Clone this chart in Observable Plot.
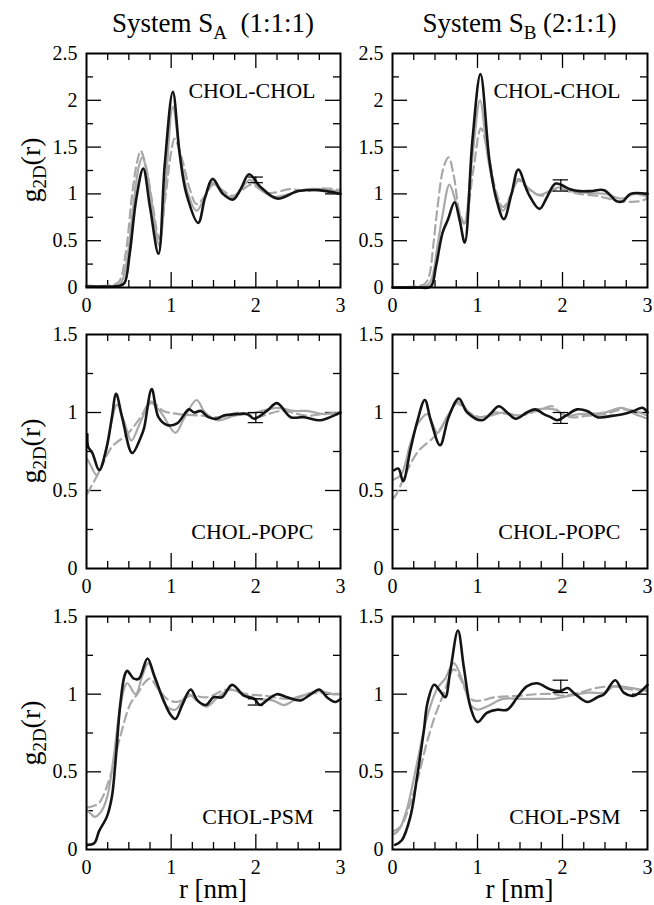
<!DOCTYPE html>
<html>
<head>
<meta charset="utf-8">
<script src="https://cdn.jsdelivr.net/npm/d3@7"></script>
<script src="https://cdn.jsdelivr.net/npm/@observablehq/plot@0.6"></script>
<style>
  body { margin: 0; background: #fff; }
  #wrap { position: relative; width: 654px; height: 905px; background: #fff; font-family: "Liberation Serif", "Times New Roman", serif; color: #000; overflow: hidden; }
  #wrap svg, #wrap svg text { font-family: "Liberation Serif", "Times New Roman", serif !important; }
  .abs { position: absolute; }
  .title { font-size: 27px; line-height: 27px; text-align: center; white-space: pre; }
  .title sub { font-size: 19px; vertical-align: -7px; line-height: 0; }
  .ylab { font-size: 28px; line-height: 30px; height: 30px; width: 120px; text-align: center; transform: rotate(-90deg); white-space: pre; }
  .ylab sub { font-size: 19px; vertical-align: -6px; line-height: 0; }
  .xlab { font-size: 27px; line-height: 27px; text-align: center; white-space: pre; }
</style>
</head>
<body>
<div id="wrap"></div>
<script>
// ---------------- data ----------------
const xTicks = [0, 1, 2, 3];
const xTickLabels = ["0", "1", "2", "3"];
const xMinorTicks = [0.25, 0.5, 0.75, 1.25, 1.5, 1.75, 2.25, 2.5, 2.75];
const xMajorInner = [1, 2];
const yTicksTop = [0, 0.5, 1, 1.5, 2, 2.5];
const yTickLabelsTop = ["0", "0.5", "1", "1.5", "2", "2.5"];
const yMinorTop = [0.25, 0.75, 1.25, 1.75, 2.25];
const yMajorInnerTop = [0.5, 1, 1.5, 2];
const yTicksLow = [0, 0.5, 1, 1.5];
const yTickLabelsLow = ["0", "0.5", "1", "1.5"];
const yMinorLow = [0.25, 0.75, 1.25];
const yMajorInnerLow = [0.5, 1];

const titles = ["System S", "A", "  (1:1:1)", "System S", "B", " (2:1:1)"];
const pairLabels = ["CHOL-CHOL", "CHOL-POPC", "CHOL-PSM"];
const xAxisLabel = "r [nm]";

// System SA, CHOL-CHOL
const aCholBlack = [[0,0.01],[0.2,0.01],[0.4,0.02],[0.45,0.05],[0.51,0.36],[0.59,0.96],[0.67,1.27],[0.75,0.86],[0.85,0.36],[0.925,1.32],[1.02,2.09],[1.1,1.43],[1.18,1.0],[1.32,0.69],[1.4,0.96],[1.49,1.16],[1.61,1.0],[1.73,0.94],[1.82,1.05],[1.92,1.21],[2.05,1.08],[2.25,0.95],[2.5,1.03],[2.74,1.04],[3.0,1.0]];
const aCholGray = [[0,0.01],[0.3,0.01],[0.4,0.04],[0.47,0.25],[0.55,0.85],[0.62,1.3],[0.66,1.39],[0.72,1.2],[0.78,0.85],[0.86,0.45],[0.93,1.05],[1.02,1.93],[1.1,1.45],[1.2,1.0],[1.3,0.82],[1.4,0.97],[1.49,1.12],[1.6,1.02],[1.73,0.96],[1.85,1.08],[1.93,1.15],[2.05,1.05],[2.2,0.97],[2.4,1.0],[2.6,1.05],[2.8,1.05],[3.0,1.02]];
const aCholDash = [[0,0.02],[0.25,0.02],[0.38,0.06],[0.46,0.35],[0.54,1.0],[0.6,1.35],[0.64,1.46],[0.7,1.3],[0.77,0.95],[0.86,0.52],[0.93,0.95],[1.0,1.45],[1.04,1.59],[1.12,1.4],[1.22,1.05],[1.3,0.89],[1.4,0.98],[1.5,1.1],[1.62,1.03],[1.73,0.98],[1.85,1.05],[1.95,1.1],[2.1,1.02],[2.2,1.01],[2.4,1.05],[2.6,1.03],[2.8,1.06],[3.0,1.04]];
const aCholErr = {x: 2, lo: 1.12, hi: 1.18};

// System SB, CHOL-CHOL
const bCholBlack = [[0,0.0],[0.3,0.0],[0.45,0.01],[0.51,0.22],[0.59,0.59],[0.65,0.72],[0.73,0.91],[0.79,0.72],[0.85,0.48],[0.94,1.57],[1.035,2.28],[1.14,1.36],[1.22,0.95],[1.31,0.73],[1.4,1.0],[1.48,1.26],[1.6,1.0],[1.73,0.84],[1.82,0.97],[1.92,1.11],[2.09,1.05],[2.2,1.03],[2.33,1.03],[2.49,1.04],[2.64,0.92],[2.71,0.92],[2.8,1.0],[3.0,1.0]];
const bCholGray = [[0,0],[0.3,0.0],[0.42,0.03],[0.47,0.12],[0.53,0.45],[0.59,0.78],[0.67,1.10],[0.75,0.9],[0.84,0.68],[0.94,1.4],[1.03,2.0],[1.12,1.4],[1.22,0.98],[1.3,0.82],[1.4,1.0],[1.48,1.16],[1.6,1.06],[1.72,0.99],[1.85,1.03],[1.95,1.07],[2.1,1.03],[2.3,1.01],[2.5,1.0],[2.7,0.95],[2.85,1.0],[3.0,0.97]];
const bCholDash = [[0,0],[0.25,0.01],[0.38,0.04],[0.43,0.12],[0.48,0.45],[0.53,0.86],[0.6,1.28],[0.66,1.39],[0.72,1.2],[0.79,0.8],[0.85,0.69],[0.95,1.25],[1.04,1.70],[1.12,1.45],[1.22,1.02],[1.3,0.86],[1.4,1.0],[1.48,1.14],[1.6,1.05],[1.75,0.98],[1.85,1.02],[1.95,1.05],[2.1,1.02],[2.2,1.0],[2.4,0.98],[2.5,0.96],[2.7,0.92],[2.9,0.92],[3.0,0.95]];
const bCholErr = {x: 1.98, lo: 1.03, hi: 1.15};

// System SA, CHOL-POPC
const aPopcBlack = [[0.01,0.86],[0.02,0.78],[0.07,0.74],[0.15,0.63],[0.24,0.78],[0.3,0.97],[0.35,1.12],[0.42,0.97],[0.54,0.74],[0.64,0.84],[0.68,0.9],[0.77,1.15],[0.85,0.97],[0.95,0.92],[1.07,0.93],[1.21,1.02],[1.27,1.0],[1.35,1.01],[1.44,0.97],[1.54,0.96],[1.62,0.98],[1.78,0.99],[1.9,0.99],[1.98,0.96],[2.13,1.01],[2.25,1.06],[2.41,0.97],[2.57,0.97],[2.76,0.95],[2.92,0.98],[3.0,1.0]];
const aPopcGray = [[0.01,0.7],[0.05,0.66],[0.12,0.6],[0.2,0.7],[0.28,0.9],[0.36,1.05],[0.44,0.95],[0.53,0.82],[0.63,0.93],[0.76,1.06],[0.88,1.0],[1.05,0.87],[1.15,0.96],[1.3,1.08],[1.4,1.0],[1.55,0.95],[1.75,0.98],[2.0,1.0],[2.25,1.03],[2.45,1.01],[2.6,1.01],[2.8,0.99],[3.0,1.0]];
const aPopcDash = [[0.01,0.48],[0.05,0.52],[0.15,0.62],[0.3,0.78],[0.48,0.86],[0.64,0.97],[0.76,1.07],[0.91,1.01],[1.09,0.99],[1.35,0.98],[1.6,0.97],[1.8,1.0],[2.0,0.97],[2.3,1.01],[2.6,0.98],[2.8,0.99],[3.0,1.0]];
const aPopcErr = {x: 2, lo: 0.935, hi: 1.0};

// System SB, CHOL-POPC
const bPopcBlack = [[0.02,0.63],[0.07,0.64],[0.125,0.56],[0.21,0.76],[0.29,0.94],[0.38,1.08],[0.45,0.95],[0.56,0.79],[0.66,0.97],[0.78,1.09],[0.88,1.0],[1.05,0.95],[1.15,0.99],[1.25,1.04],[1.35,1.0],[1.45,0.96],[1.58,1.0],[1.68,1.02],[1.78,0.99],[1.86,0.97],[1.94,0.95],[2.04,0.98],[2.17,1.02],[2.29,1.01],[2.41,0.97],[2.6,0.98],[2.72,0.99],[2.84,1.01],[2.94,1.03],[3.0,1.0]];
const bPopcGray = [[0.01,0.57],[0.1,0.6],[0.21,0.8],[0.3,0.93],[0.41,0.99],[0.53,0.87],[0.65,0.98],[0.78,1.07],[0.9,1.0],[1.0,0.97],[1.15,0.98],[1.3,1.0],[1.5,0.98],[1.7,1.02],[1.9,1.02],[2.05,0.98],[2.2,0.99],[2.5,1.0],[2.7,1.03],[2.85,0.99],[3.0,0.96]];
const bPopcDash = [[0.01,0.45],[0.05,0.48],[0.15,0.6],[0.3,0.75],[0.5,0.85],[0.65,0.97],[0.75,1.06],[0.9,1.0],[1.05,0.97],[1.2,1.0],[1.5,0.98],[1.75,1.02],[1.88,1.04],[1.97,1.0],[2.1,0.97],[2.3,0.98],[2.5,0.99],[2.7,1.02],[2.85,1.01],[3.0,0.98]];
const bPopcErr = {x: 1.98, lo: 0.93, hi: 1.0};

// System SA, CHOL-PSM
const aPsmBlack = [[0.01,0.03],[0.09,0.04],[0.15,0.12],[0.24,0.21],[0.3,0.34],[0.34,0.55],[0.4,0.94],[0.45,1.12],[0.48,1.15],[0.56,1.10],[0.62,1.10],[0.72,1.23],[0.8,1.12],[0.91,0.96],[0.99,0.87],[1.05,0.84],[1.13,0.93],[1.23,1.03],[1.31,0.96],[1.41,0.93],[1.5,0.98],[1.6,0.98],[1.72,1.06],[1.86,0.99],[1.98,0.97],[2.05,0.93],[2.13,0.96],[2.25,1.0],[2.37,0.98],[2.53,0.96],[2.65,1.0],[2.75,1.03],[2.84,0.98],[2.94,0.95],[3.0,0.97]];
const aPsmGray = [[0.01,0.25],[0.05,0.23],[0.1,0.21],[0.18,0.25],[0.25,0.35],[0.32,0.59],[0.4,0.92],[0.48,1.07],[0.58,1.0],[0.66,1.12],[0.73,1.2],[0.82,1.08],[0.95,0.92],[1.05,0.9],[1.2,1.0],[1.3,0.96],[1.42,0.92],[1.55,0.98],[1.7,1.03],[1.85,1.0],[2.0,0.97],[2.2,0.96],[2.33,0.93],[2.45,0.96],[2.6,1.0],[2.75,1.02],[2.9,1.0],[3.0,1.0]];
const aPsmDash = [[0.01,0.27],[0.08,0.28],[0.15,0.3],[0.28,0.47],[0.4,0.73],[0.52,0.94],[0.6,1.0],[0.68,1.07],[0.75,1.1],[0.85,1.03],[0.95,0.97],[1.07,0.95],[1.23,0.99],[1.43,0.98],[1.66,1.03],[1.9,1.0],[2.1,0.99],[2.4,0.97],[2.6,1.0],[2.8,1.01],[3.0,1.0]];
const aPsmErr = {x: 2, lo: 0.93, hi: 0.97};

// System SB, CHOL-PSM
const bPsmBlack = [[0.03,0.03],[0.11,0.06],[0.21,0.21],[0.29,0.47],[0.37,0.77],[0.41,0.94],[0.49,1.06],[0.56,1.02],[0.62,0.98],[0.68,1.15],[0.77,1.41],[0.84,1.17],[0.92,0.91],[1.0,0.82],[1.11,0.88],[1.23,0.9],[1.35,0.9],[1.47,0.98],[1.58,1.05],[1.7,1.07],[1.86,1.03],[1.98,1.02],[2.06,1.04],[2.15,1.0],[2.29,0.95],[2.41,0.98],[2.49,1.0],[2.62,1.09],[2.72,1.01],[2.84,0.99],[3.0,1.06]];
const bPsmGray = [[0.02,0.1],[0.08,0.13],[0.17,0.26],[0.29,0.56],[0.41,0.86],[0.53,1.04],[0.62,1.1],[0.72,1.2],[0.84,1.06],[0.92,0.93],[1.0,0.9],[1.11,0.92],[1.3,0.97],[1.5,0.97],[1.7,0.97],[1.9,0.97],[2.0,0.98],[2.3,1.01],[2.5,1.01],[2.6,1.05],[2.8,1.04],[3.0,1.02]];
const bPsmDash = [[0.02,0.12],[0.1,0.15],[0.2,0.28],[0.3,0.46],[0.4,0.68],[0.5,0.86],[0.6,1.0],[0.72,1.16],[0.8,1.1],[0.88,1.0],[0.95,0.96],[1.05,0.96],[1.2,0.98],[1.5,0.99],[1.7,1.0],[1.9,1.0],[2.0,0.99],[2.2,1.01],[2.4,1.04],[2.6,1.05],[2.8,1.03],[3.0,1.03]];
const bPsmErr = {x: 1.98, lo: 1.01, hi: 1.09};

// ---------------- layout ----------------
const FONT = "Liberation Serif";
const errCapHalf = 0.09;
const cols = [
  {left: 0, width: 345, ml: 86, mr: 5},
  {left: 345, width: 309, ml: 47, mr: 7}
];
const rows = [
  {frameTop: 53, frameH: 234},
  {frameTop: 334, frameH: 234},
  {frameTop: 616, frameH: 233}
];
const MT = 10, MB = 32;
const GRAY = "#a8a8a8";

const panels = [
  {row: 0, col: 0, black: aCholBlack, gray: aCholGray, dash: aCholDash, err: aCholErr, top: true, label: pairLabels[0], anchor: "top-right", dx: -25, dy: 37},
  {row: 0, col: 1, black: bCholBlack, gray: bCholGray, dash: bCholDash, err: bCholErr, top: true, label: pairLabels[0], anchor: "top-right", dx: -27, dy: 37},
  {row: 1, col: 0, black: aPopcBlack, gray: aPopcGray, dash: aPopcDash, err: aPopcErr, top: false, label: pairLabels[1], anchor: "bottom-right", dx: -27, dy: -37},
  {row: 1, col: 1, black: bPopcBlack, gray: bPopcGray, dash: bPopcDash, err: bPopcErr, top: false, label: pairLabels[1], anchor: "bottom-right", dx: -27, dy: -37},
  {row: 2, col: 0, black: aPsmBlack, gray: aPsmGray, dash: aPsmDash, err: aPsmErr, top: false, label: pairLabels[2], anchor: "bottom-right", dx: -27, dy: -33},
  {row: 2, col: 1, black: bPsmBlack, gray: bPsmGray, dash: bPsmDash, err: bPsmErr, top: false, label: pairLabels[2], anchor: "bottom-right", dx: -27, dy: -33}
];

const wrap = document.getElementById("wrap");

function makePanel(p) {
  const c = cols[p.col], r = rows[p.row];
  const fw = c.width - c.ml - c.mr;
  const fh = r.frameH;
  const yTicks = p.top ? yTicksTop : yTicksLow;
  const yLabels = p.top ? yTickLabelsTop : yTickLabelsLow;
  const yMinor = p.top ? yMinorTop : yMinorLow;
  const yMajor = p.top ? yMajorInnerTop : yMajorInnerLow;
  const yMax = yTicks[yTicks.length - 1];
  const tickStyle = {stroke: "#000", strokeWidth: 1.3};
  const svg = Plot.plot({
    width: c.width,
    height: MT + fh + MB,
    marginLeft: c.ml,
    marginRight: c.mr,
    marginTop: MT,
    marginBottom: MB,
    style: {fontFamily: FONT, fontSize: "20px", color: "#000", background: "transparent", overflow: "visible"},
    x: {domain: [0, 3]},
    y: {domain: [0, yMax]},
    marks: [
      Plot.axisX({ticks: xTicks, tickSize: 0, tickPadding: 10, tickFormat: (d, i) => xTickLabels[i], label: null, fontFamily: FONT, fontSize: 20, fontVariant: "normal"}),
      Plot.axisY({ticks: yTicks, tickSize: 0, tickPadding: 9, tickFormat: (d, i) => yLabels[i], label: null, fontFamily: FONT, fontSize: 20, fontVariant: "normal"}),
      // inward ticks: left/right
      Plot.tickY(yMinor, {y: d => d, insetRight: fw - 7, ...tickStyle}),
      Plot.tickY(yMajor, {y: d => d, insetRight: fw - 15, ...tickStyle}),
      Plot.tickY(yMinor, {y: d => d, insetLeft: fw - 7, ...tickStyle}),
      Plot.tickY(yMajor, {y: d => d, insetLeft: fw - 15, ...tickStyle}),
      // inward ticks: bottom/top
      Plot.tickX(xMinorTicks, {x: d => d, insetTop: fh - 7, ...tickStyle}),
      Plot.tickX(xMajorInner, {x: d => d, insetTop: fh - 15, ...tickStyle}),
      Plot.tickX(xMinorTicks, {x: d => d, insetBottom: fh - 7, ...tickStyle}),
      Plot.tickX(xMajorInner, {x: d => d, insetBottom: fh - 15, ...tickStyle}),
      // curves
      Plot.line(p.dash, {curve: "catmull-rom", stroke: GRAY, strokeWidth: 2.2, strokeDasharray: "9,5"}),
      Plot.line(p.gray, {curve: "catmull-rom", stroke: GRAY, strokeWidth: 2.2}),
      Plot.line(p.black, {curve: "catmull-rom", stroke: "#141414", strokeWidth: 2.6}),
      // error bar
      Plot.ruleX([p.err], {x: d => d.x, y1: d => d.lo, y2: d => d.hi, stroke: "#000", strokeWidth: 1.2}),
      Plot.ruleY([p.err], {y: d => d.lo, x1: d => d.x - errCapHalf, x2: d => d.x + errCapHalf, stroke: "#000", strokeWidth: 1.2}),
      Plot.ruleY([p.err], {y: d => d.hi, x1: d => d.x - errCapHalf, x2: d => d.x + errCapHalf, stroke: "#000", strokeWidth: 1.2}),
      // label
      Plot.text([p.label], {text: d => d, frameAnchor: p.anchor, textAnchor: "end", lineAnchor: "middle", dx: p.dx, dy: p.dy, fontSize: 22, fontFamily: FONT, fill: "#000"}),
      Plot.frame({stroke: "#000", strokeWidth: 2})
    ]
  });
  const holder = document.createElement("div");
  holder.className = "abs";
  holder.style.left = c.left + "px";
  holder.style.top = (r.frameTop - MT) + "px";
  holder.appendChild(svg);
  wrap.appendChild(holder);
}
panels.forEach(makePanel);

// titles
function addTitle(text, sub, rest, centerX) {
  const d = document.createElement("div");
  d.className = "abs title";
  d.style.left = (centerX - 150) + "px";
  d.style.width = "300px";
  d.style.top = "10px";
  d.appendChild(document.createTextNode(text));
  const s = document.createElement("sub");
  s.textContent = sub;
  d.appendChild(s);
  d.appendChild(document.createTextNode(rest));
  wrap.appendChild(d);
}
addTitle(titles[0], titles[1], titles[2], 86 + 254 / 2);
addTitle(titles[3], titles[4], titles[5], 392 + 255 / 2);

// y labels
rows.forEach(r => {
  const d = document.createElement("div");
  d.className = "abs ylab";
  const cy = r.frameTop + r.frameH / 2;
  d.style.left = (31 - 60) + "px";
  d.style.top = (cy - 15) + "px";
  d.appendChild(document.createTextNode("g"));
  const s = document.createElement("sub");
  s.textContent = "2D";
  d.appendChild(s);
  d.appendChild(document.createTextNode("(r)"));
  wrap.appendChild(d);
});

// x labels
[86 + 254 / 2, 392 + 255 / 2].forEach(cx => {
  const d = document.createElement("div");
  d.className = "abs xlab";
  d.style.left = (cx - 60) + "px";
  d.style.width = "120px";
  d.style.top = "876px";
  d.textContent = xAxisLabel;
  wrap.appendChild(d);
});
</script>
</body>
</html>
